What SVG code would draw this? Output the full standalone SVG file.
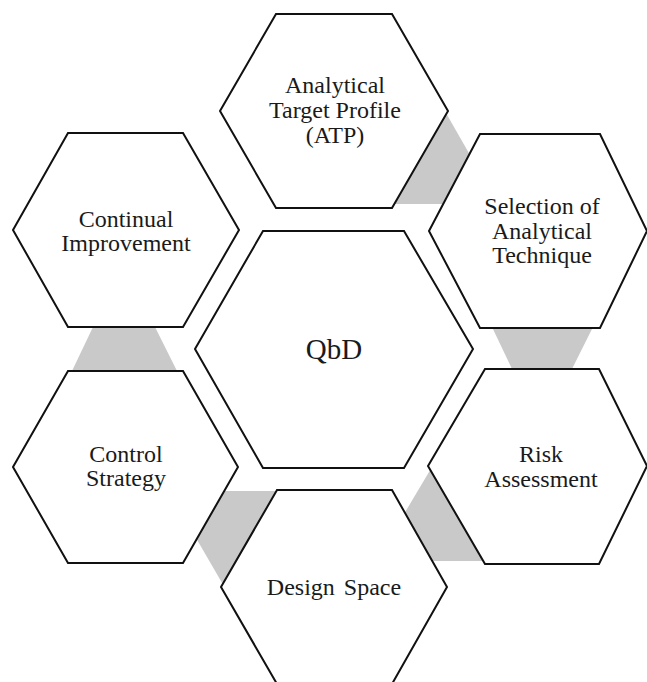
<svg xmlns="http://www.w3.org/2000/svg" width="647" height="682" viewBox="0 0 647 682">
<style>
.hex{fill:#ffffff;stroke:#111111;stroke-width:2;stroke-linejoin:miter}
.conn{fill:#c9c9c9;stroke:none}
text{font-family:'Liberation Serif','Times New Roman','DejaVu Serif',serif;font-size:24px;fill:#1a1a1a;text-anchor:middle}
text.big{font-size:29px}
</style>
<rect width="647" height="682" fill="#ffffff"/>
<g id="connectors">
<polygon class="conn" points="446,113 474,162 445,204 392,204"/>
<polygon class="conn" points="492,327 593,327 572,369 512,369"/>
<polygon class="conn" points="432,467 404,514 420,561 490,561"/>
<polygon class="conn" points="222,491 280,491 225,588 196,538"/>
<polygon class="conn" points="93,327 155,327 177,371 72,371"/>
</g>
<g id="node-atp">
<polygon class="hex" points="220,111 276,14 392,14 448,111 392,208 276,208"/>
<text x="335" y="93" font-family="Liberation Serif, serif">Analytical</text>
<text x="335" y="118" font-family="Liberation Serif, serif">Target Profile</text>
<text x="335" y="143" font-family="Liberation Serif, serif">(ATP)</text>
</g>
<g id="node-selection">
<polygon class="hex" points="429,231 480,134 600,134 647,231 600,328 480,328"/>
<text x="542" y="214" font-family="Liberation Serif, serif">Selection of</text>
<text x="542" y="239" font-family="Liberation Serif, serif">Analytical</text>
<text x="542" y="263" font-family="Liberation Serif, serif">Technique</text>
</g>
<g id="node-continual">
<polygon class="hex" points="13,230 68,133 183,133 239,230 183,327 68,327"/>
<text x="126" y="227" font-family="Liberation Serif, serif">Continual</text>
<text x="126" y="251" font-family="Liberation Serif, serif">Improvement</text>
</g>
<g id="node-control">
<polygon class="hex" points="13,467 68,371 183,371 238,467 183,563 68,563"/>
<text x="126" y="462" font-family="Liberation Serif, serif">Control</text>
<text x="126" y="486" font-family="Liberation Serif, serif">Strategy</text>
</g>
<g id="node-risk">
<polygon class="hex" points="428,466 485,369 599,369 647,466 599,564 485,564"/>
<text x="541" y="462" font-family="Liberation Serif, serif">Risk</text>
<text x="541" y="487" font-family="Liberation Serif, serif">Assessment</text>
</g>
<g id="node-design">
<polygon class="hex" points="221,587 277,490 392,490 447,587 392,684 277,684"/>
<text x="334" y="595" font-family="Liberation Serif, serif" word-spacing="3">Design Space</text>
</g>
<g id="node-qbd">
<polygon class="hex" points="195,349 263,231 404,231 473,349 404,468 263,468"/>
<text class="big" x="334" y="359" font-family="Liberation Serif, serif">QbD</text>
</g>
</svg>
